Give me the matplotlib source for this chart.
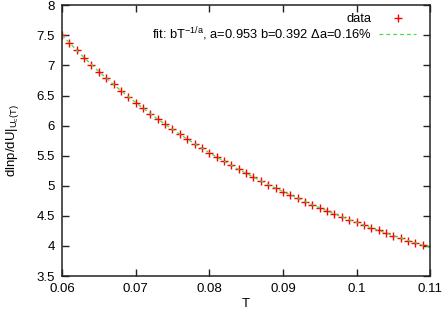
import numpy as np
import matplotlib
matplotlib.use("Agg")
import matplotlib.pyplot as plt

plt.rcParams['font.family'] = ['Liberation Sans', 'DejaVu Sans']
plt.rcParams['mathtext.fontset'] = 'custom'
plt.rcParams['mathtext.rm'] = 'Liberation Sans'
plt.rcParams['mathtext.it'] = 'Liberation Sans'
plt.rcParams['mathtext.sf'] = 'Liberation Sans'

# data
T = np.round(np.arange(0.060, 0.1095, 0.001), 3)
dlnp = [7.505, 7.376, 7.251, 7.130, 7.014, 6.900, 6.791, 6.684, 6.581, 6.481,
        6.384, 6.290, 6.198, 6.109, 6.023, 5.938, 5.857, 5.777, 5.699, 5.623,
        5.550, 5.478, 5.408, 5.339, 5.272, 5.207, 5.144, 5.082, 5.021, 4.962,
        4.904, 4.848, 4.792, 4.738, 4.685, 4.634, 4.583, 4.534, 4.485, 4.437,
        4.391, 4.345, 4.301, 4.257, 4.214, 4.172, 4.130, 4.090, 4.050, 4.011]

# fit parameters
a = 0.953
b = 0.392

xticks = [0.06, 0.07, 0.08, 0.09, 0.1, 0.11]
xticklabels = ['0.06', '0.07', '0.08', '0.09', '0.1', '0.11']
yticks = [3.5, 4, 4.5, 5, 5.5, 6, 6.5, 7, 7.5, 8]
yticklabels = ['3.5', '4', '4.5', '5', '5.5', '6', '6.5', '7', '7.5', '8']

fig = plt.figure(figsize=(4.43, 3.14), dpi=100)
ax = fig.add_axes([0.140, 0.121, 0.831, 0.862])

ax.plot(T, dlnp, '+', color='#ff0000', markersize=5.5, markeredgewidth=1.0,
        label='data')
tt = np.linspace(0.06, 0.11, 200)
ax.plot(tt, b * tt ** (-1.0 / a), '--', color='#44dd44', lw=0.9,
        dashes=(3, 2.5), label=r'fit: bT$^{-1/a}$, a=0.953 b=0.392 Δa=0.16%')

ax.set_xlim(0.06, 0.11)
ax.set_ylim(3.5, 8)
ax.set_xticks(xticks)
ax.set_xticklabels(xticklabels)
ax.set_yticks(yticks)
ax.set_yticklabels(yticklabels)
ax.tick_params(direction='in', top=True, right=True, length=5, width=1,
               labelsize=9.5, pad=5, color='#222222')
for s in ax.spines.values():
    s.set_linewidth(1.1)
    s.set_color('#222222')

ax.set_xlabel('T', fontsize=9.5, labelpad=2)
ax.set_ylabel(r'dlnp/dU$|_{U_c(T)}$', fontsize=9.5, labelpad=11)

ax.legend(loc='upper right', bbox_to_anchor=(0.978, 0.995), frameon=False,
          markerfirst=False, fontsize=9.3, handlelength=2.8,
          handletextpad=0.6, labelspacing=0.0, borderaxespad=0.3,
          borderpad=0.2)

fig.savefig('out.png', dpi=100)
